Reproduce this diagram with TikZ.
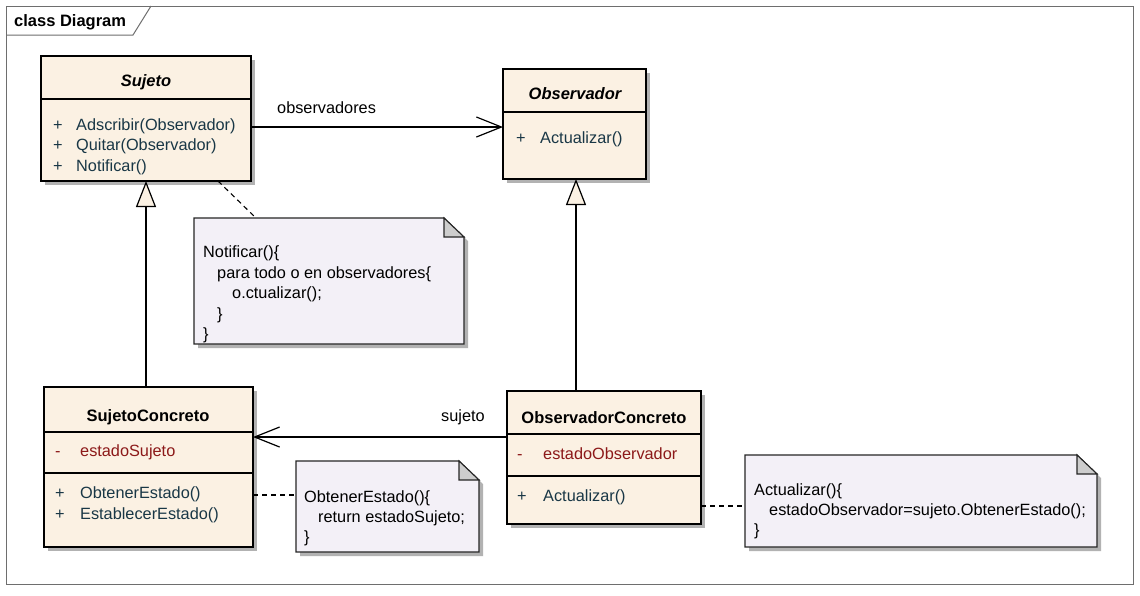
\documentclass[tikz,border=0pt]{standalone}
\usepackage{fontspec}
\setmainfont{Liberation Sans}
\usetikzlibrary{arrows.meta,calc,shadows}
\definecolor{boxfill}{RGB}{251,241,227}
\definecolor{notefill}{RGB}{243,240,247}
\definecolor{foldfill}{RGB}{205,205,205}
\definecolor{opcolor}{RGB}{25,55,70}
\definecolor{attcolor}{RGB}{140,25,25}
\definecolor{framecol}{RGB}{110,110,110}
\newcommand\umlfont{\fontsize{16.3}{18}\selectfont}
\newcommand\umlbold{\fontsize{16.5}{18}\selectfont\bfseries}
\newcommand\drawnote[1]{%
  \fill[black!30] ([shift={(4pt,-4pt)}]#1.north west) -- ([shift={(-16pt,-4pt)}]#1.north east)
     -- ([shift={(4pt,-23pt)}]#1.north east)
     -- ([shift={(4pt,-4pt)}]#1.south east) -- ([shift={(4pt,-4pt)}]#1.south west) -- cycle;
  \draw[noteline,fill=notefill] (#1.north west) -- ([xshift=-20pt]#1.north east) -- ([yshift=-19pt]#1.north east)
     -- (#1.south east) -- (#1.south west) -- cycle;
  \draw[noteline,fill=foldfill] ([xshift=-20pt]#1.north east) -- ([xshift=-20pt,yshift=-19pt]#1.north east)
     -- ([yshift=-19pt]#1.north east) -- cycle;
}
\begin{document}
\begin{tikzpicture}[x=1pt,y=-1pt,
  classbox/.style={draw=black, line width=1.2pt, fill=boxfill, rectangle, inner sep=0pt, outer sep=0pt,
     anchor=north west, drop shadow={shadow xshift=4pt, shadow yshift=-4pt, fill=black!30, opacity=1}},
  notearea/.style={rectangle, draw=none, inner sep=0pt, outer sep=0pt, anchor=north west},
  noteline/.style={draw=black!85, line width=1.1pt, line join=miter},
  sepline/.style={draw=black, line width=1.2pt},
  title/.style={anchor=base, inner sep=0pt, font=\umlbold},
  member/.style={anchor=base west, inner sep=0pt, font=\umlfont, text=opcolor},
  attr/.style={anchor=base west, inner sep=0pt, font=\umlfont, text=attcolor},
  notetext/.style={anchor=base west, inner sep=0pt, font=\umlfont, text=black},
  lbl/.style={anchor=base west, inner sep=0pt, font=\umlfont, text=black},
  assoc/.style={draw=black, line width=1.2pt, -{Straight Barb[length=25pt,width=20pt,line width=1.2pt]}},
  gen/.style={draw=black, line width=1.2pt, -{Triangle[length=26pt,width=20pt,fill=boxfill,line width=1.2pt]}},
  dashline/.style={draw=black, line width=1.1pt, dash pattern=on 5pt off 4pt}
]
\useasboundingbox (0,0) rectangle (1140,595);
\fill[white] (0,0) rectangle (1140,595);

% frame
\draw[draw=framecol, line width=1pt] (6,6) rectangle (1133,584);
\draw[draw=framecol, line width=1pt] (6,35) -- (133,35) -- (151,6);
\node[anchor=base west, inner sep=0pt, font=\fontsize{16.5}{18}\selectfont\bfseries] (tabT) at (14,26) {class Diagram};

% classes
\node[classbox, minimum width=210pt, minimum height=125pt] (sujeto) at (41,56) {};
\node[classbox, minimum width=143pt, minimum height=110pt] (observador) at (503,69) {};
\node[classbox, minimum width=209pt, minimum height=160pt] (sconc) at (44,387) {};
\node[classbox, minimum width=194pt, minimum height=133pt] (oconc) at (507,391) {};

% separators
\draw[sepline] ([yshift=-43pt]sujeto.north west) -- ([yshift=-43pt]sujeto.north east);
\draw[sepline] ([yshift=-43pt]observador.north west) -- ([yshift=-43pt]observador.north east);
\draw[sepline] ([yshift=-45pt]sconc.north west) -- ([yshift=-45pt]sconc.north east);
\draw[sepline] ([yshift=-86pt]sconc.north west) -- ([yshift=-86pt]sconc.north east);
\draw[sepline] ([yshift=-43pt]oconc.north west) -- ([yshift=-43pt]oconc.north east);
\draw[sepline] ([yshift=-85pt]oconc.north west) -- ([yshift=-85pt]oconc.north east);

% class texts
\node[title] (sujetoT) at (146,86) {\itshape Sujeto};
\node[member] (sujetoM1) at (53,130) {\makebox[23pt][l]{+}Adscribir(Observador)};
\node[member] (sujetoM2) at (53,150.5) {\makebox[23pt][l]{+}Quitar(Observador)};
\node[member] (sujetoM3) at (53,171) {\makebox[23pt][l]{+}Notificar()};

\node[title] (observadorT) at (575,99) {\itshape Observador};
\node[member] (observadorM1) at (516,143) {\makebox[24pt][l]{+}Actualizar()};

\node[title] (sconcT) at (148,421) {SujetoConcreto};
\node[attr] (sconcA1) at (55,456) {\makebox[25pt][l]{-}estadoSujeto};
\node[member] (sconcM1) at (55,498) {\makebox[25pt][l]{+}ObtenerEstado()};
\node[member] (sconcM2) at (55,519) {\makebox[25pt][l]{+}EstablecerEstado()};

\node[title] (oconcT) at (604,423) {ObservadorConcreto};
\node[attr] (oconcA1) at (517,459) {\makebox[26pt][l]{-}estadoObservador};
\node[member] (oconcM1) at (517,501) {\makebox[26pt][l]{+}Actualizar()};

% notes
\node[notearea, minimum width=270pt, minimum height=126pt] (n1) at (194,218) {};
\node[notearea, minimum width=183pt, minimum height=91pt] (n2) at (296,461) {};
\node[notearea, minimum width=352pt, minimum height=92pt] (n3) at (745,455) {};
\drawnote{n1}
\drawnote{n2}
\drawnote{n3}

\node[notetext] (n1l1) at (203,257.5) {Notificar()\{};
\node[notetext] (n1l2) at (217,278) {para todo o en observadores\{};
\node[notetext] (n1l3) at (232,298.5) {o.ctualizar();};
\node[notetext] (n1l4) at (217,319) {\}};
\node[notetext] (n1l5) at (203,339.5) {\}};

\node[notetext] (n2l1) at (304,502.5) {ObtenerEstado()\{};
\node[notetext] (n2l2) at (318,522.5) {return estadoSujeto;};
\node[notetext] (n2l3) at (304,542.5) {\}};

\node[notetext] (n3l1) at (754,495.5) {Actualizar()\{};
\node[notetext] (n3l2) at (769,515.5) {estadoObservador=sujeto.ObtenerEstado();};
\node[notetext] (n3l3) at (754,535.5) {\}};

% connectors
\draw[assoc] ([yshift=-8.5pt]sujeto.east) -- ([yshift=-8.5pt]sujeto.east -| observador.west);
\node[lbl] (obsL) at (277,113.5) {observadores};

\draw[assoc] ([yshift=20.5pt]oconc.west) -- ([yshift=20.5pt]oconc.west -| sconc.east);
\node[lbl] (sujL) at (441,421.5) {sujeto};

\draw[gen] (sconc.north -| sujeto.south) -- (sujeto.south);
\draw[gen] ([xshift=1.5pt]observador.south |- oconc.north) -- ([xshift=1.5pt]observador.south);

\draw[dashline] ([xshift=72pt]sujeto.south) -- ([xshift=-73pt]n1.north);
\draw[dashline] ([yshift=-28pt]sconc.east) -- ([yshift=-28pt]sconc.east -| n2.west);
\draw[dashline] ([yshift=-48.5pt]oconc.east) -- ([yshift=-48.5pt]oconc.east -| n3.west);
\end{tikzpicture}
\end{document}
